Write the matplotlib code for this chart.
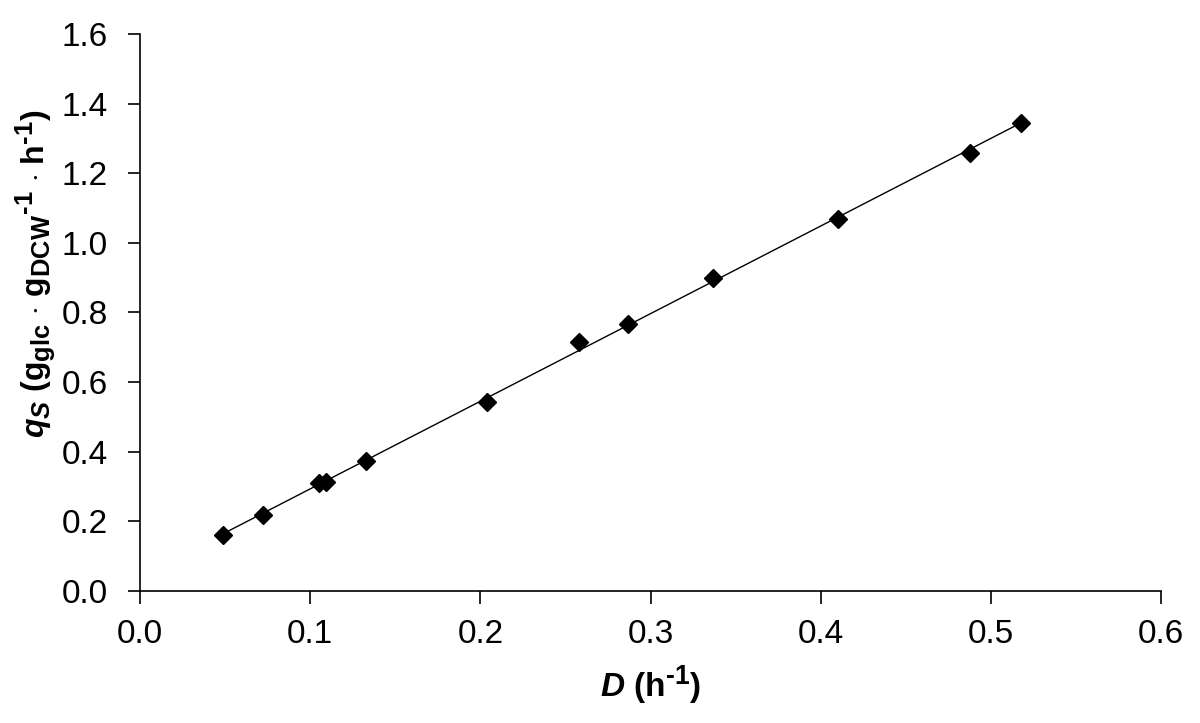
import numpy as np
import matplotlib
matplotlib.use("Agg")
import matplotlib.pyplot as plt
import matplotlib._mathtext as mt

# dilution rate D (1/h) and specific glucose uptake rate qS
D = np.array([0.049, 0.072, 0.105, 0.109, 0.133, 0.204, 0.258, 0.287, 0.337, 0.410, 0.488, 0.518])
qS = np.array([0.161, 0.218, 0.310, 0.313, 0.374, 0.543, 0.716, 0.767, 0.899, 1.069, 1.259, 1.345])

xticks = [0.0, 0.1, 0.2, 0.3, 0.4, 0.5, 0.6]
yticks = [0.0, 0.2, 0.4, 0.6, 0.8, 1.0, 1.2, 1.4, 1.6]

plt.rcParams['font.family'] = ['Liberation Sans', 'DejaVu Sans']
plt.rcParams['mathtext.fontset'] = 'custom'
plt.rcParams['mathtext.rm'] = 'Liberation Sans:bold'
plt.rcParams['mathtext.bf'] = 'Liberation Sans:bold'
plt.rcParams['mathtext.it'] = 'Liberation Sans:italic:bold'
mt.SHRINK_FACTOR = 0.8  # sub/superscripts a bit larger, like the original

fig = plt.figure(figsize=(12, 7.23), dpi=100)
ax = fig.add_axes([0.1167, 0.1826, 0.8508, 0.7704])

# linear trend line over the data range
k, b = np.polyfit(D, qS, 1)
xl = np.array([D.min(), D.max()])
ax.plot(xl, k * xl + b, color='black', lw=1.0)
ax.plot(D, qS, 'D', color='black', markersize=9)

ax.set_xlim(0, 0.6)
ax.set_ylim(0, 1.6)
ax.set_xticks(xticks)
ax.set_yticks(yticks)
ax.set_xticklabels(['%.1f' % v for v in xticks])
ax.set_yticklabels(['%.1f' % v for v in yticks])
ax.tick_params(direction='out', length=9, width=1.2, labelsize=24)
ax.tick_params(axis='x', pad=11)
ax.tick_params(axis='y', pad=14)

for s in ['top', 'right']:
    ax.spines[s].set_visible(False)
for s in ['left', 'bottom']:
    ax.spines[s].set_linewidth(1.2)

ax.set_xlabel(r'$\mathit{D}$ (h$^{\text{-1}}$)', fontsize=24, fontweight='bold', labelpad=10)
ax.set_ylabel(r'$\mathit{q}_{\mathit{S}}$ (g$_{\mathrm{glc}}$ $\cdot$ g$_{\mathrm{DCW}}$$^{\text{-1}}$ $\cdot$ h$^{\text{-1}}$)',
              fontsize=23, fontweight='bold')
ax.yaxis.set_label_coords(-0.081, 0.57)

fig.savefig('out.png', dpi=100)
